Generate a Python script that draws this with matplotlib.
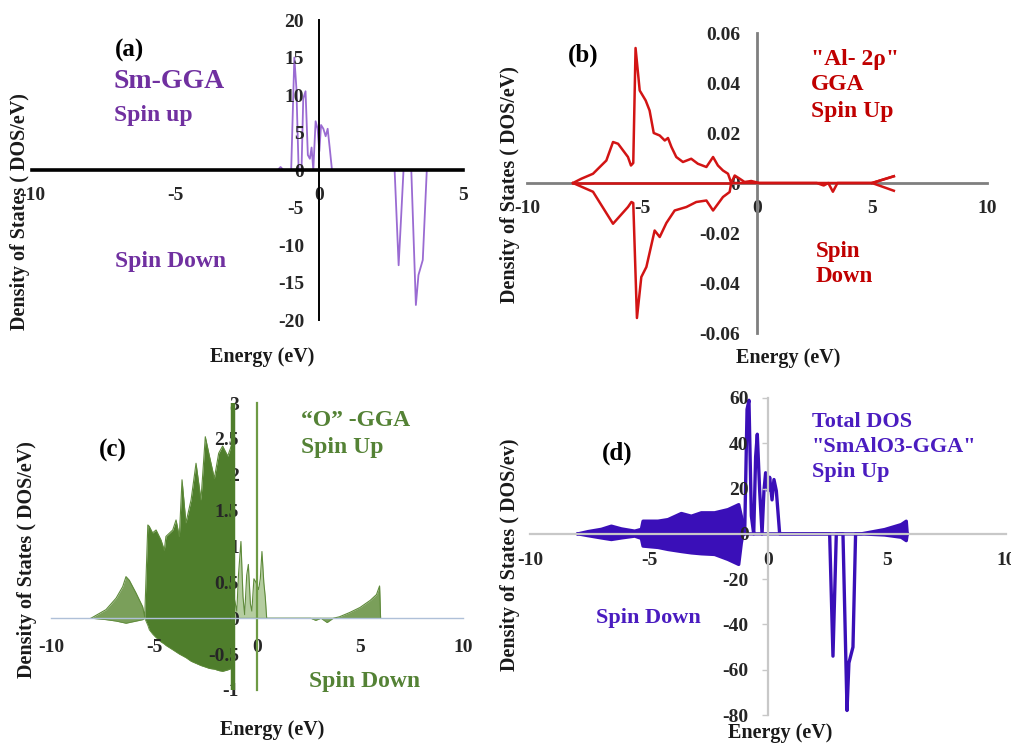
import matplotlib
matplotlib.use("Agg")
import matplotlib.pyplot as plt
import numpy as np

# ---------------- data ----------------
# (a) Sm-GGA
a_xticks = [-10, -5, 0, 5]
a_yticks = [-20, -15, -10, -5, 0, 5, 10, 15, 20]
E_a_up = [-10, -2.0, -1.45, -1.35, -1.25, -0.98, -0.87, -0.80, -0.72, -0.62, -0.56,
          -0.48, -0.40, -0.33, -0.27, -0.21, -0.13, -0.06, 0.0, 0.06, 0.14, 0.22,
          0.29, 0.36, 0.44, 5.0]
sm_up = [0, 0, 0, 0.4, 0, 0, 15, 11, 0, 0, 9.5,
         10.5, 2, 1.5, 3, 0, 6.5, 5.5, 2.5, 6, 5.5, 4.5,
         5.5, 3, 0, 0]
E_a_dn = [-10, 2.62, 2.76, 2.85, 2.93, 3.20, 3.36, 3.45, 3.60, 3.74, 5.0]
sm_dn = [0, 0, -12.7, -6, 0, 0, -18, -14, -12, 0, 0]

# (b) Al-2p
b_xticks = [-10, -5, 0, 5, 10]
b_yticks = [-0.06, -0.04, -0.02, 0, 0.02, 0.04, 0.06]
b_ylabels = ["-0.06", "-0.04", "-0.02", "0", "0.02", "0.04", "0.06"]
E_b_up = [-8.0, -7.64, -7.13, -6.77, -6.55, -6.26, -6.04, -5.61, -5.48, -5.38,
          -5.28, -5.10, -4.84, -4.67, -4.49, -4.23, -4.01, -3.87, -3.72, -3.51,
          -3.22, -2.86, -2.57, -2.20, -1.91, -1.70, -1.48, -1.26, -1.12, -0.97,
          -0.75, -0.54, -0.25, 0.1, 2.6, 2.9, 3.1, 3.3, 3.5, 5.0, 5.95]
al_up = [0, 0.0017, 0.0037, 0.007, 0.009, 0.0164, 0.0157, 0.0104, 0.007, 0.008,
         0.054, 0.037, 0.033, 0.029, 0.020, 0.019, 0.017, 0.018, 0.0144, 0.0104,
         0.0084, 0.0097, 0.0077, 0.0064, 0.0104, 0.007, 0.005, 0.0037, 0.0, 0.003,
         0.0017, 0.0004, 0.0008, 0.0, 0, -0.001, 0, -0.0035, 0, 0, 0.0027]
E_b_dn = [-8.0, -7.13, -6.26, -5.61, -5.46, -5.38, -5.22, -5.03, -4.81, -4.45,
          -4.23, -3.94, -3.58, -3.07, -2.64, -2.20, -1.91, -1.48, -1.19, -1.12,
          0.1, 5.0, 5.95]
al_dn = [0, -0.0035, -0.0163, -0.0096, -0.0076, -0.008, -0.054, -0.0376, -0.0336, -0.019,
         -0.0216, -0.016, -0.011, -0.0096, -0.0076, -0.007, -0.011, -0.0056, -0.0036, 0,
         0, 0, -0.0031]

# (c) O-GGA (upper / lower envelopes of the dense curve)
c_xticks = [-10, -5, 0, 5, 10]
c_yticks = [-1, -0.5, 0, 0.5, 1, 1.5, 2, 2.5, 3]
c_ylabels = ["-1", "-0.5", "0", "0.5", "1", "1.5", "2", "2.5", "3"]
E_c = [-8.06, -7.33, -6.84, -6.52, -6.36, -6.20, -5.87, -5.55, -5.45, -5.30,
       -5.23, -5.07, -4.90, -4.66, -4.50, -4.42, -4.09, -3.93, -3.77, -3.64,
       -3.45, -3.20, -2.96, -2.72, -2.51, -2.31, -2.07, -1.86, -1.67, -1.42,
       -1.25, -1.15, -1.12, -0.98, -0.90, -0.78, -0.68, -0.60, -0.50, -0.42,
       -0.32, -0.25, -0.15, -0.05, 0.08, 0.16, 0.24, 0.33, 0.40, 0.47,
       2.60, 2.85, 3.10, 3.40, 3.70, 4.00, 4.50, 5.00, 5.50, 5.80,
       5.95, 6.00]
O_up = [0, 0.12, 0.28, 0.44, 0.58, 0.53, 0.35, 0.16, 0.02, 1.30,
        1.28, 1.19, 1.23, 1.09, 0.95, 1.14, 1.23, 1.37, 1.14, 1.93,
        1.33, 1.65, 2.16, 1.65, 2.53, 2.26, 1.95, 2.30, 2.40, 2.26,
        2.40, 2.30, 0.30, 0.10, 0.60, 1.07, 0.30, 0.05, 0.60, 0.75,
        0.20, 0.10, 0.55, 0.50, 0.40, 0.55, 0.93, 0.50, 0.30, 0.0,
        0, 0, 0, 0, 0, 0.02, 0.08, 0.15, 0.25, 0.33,
        0.45, 0.0]
O_dn = [0, -0.02, -0.04, -0.06, -0.07, -0.06, -0.04, -0.02, 0.0, -0.10,
        -0.16, -0.22, -0.27, -0.33, -0.36, -0.38, -0.44, -0.47, -0.50, -0.52,
        -0.55, -0.60, -0.63, -0.66, -0.68, -0.70, -0.71, -0.73, -0.74, -0.72,
        -0.70, -0.60, 0, 0, 0, 0, 0, 0, 0, 0,
        0, 0, 0, 0, 0, 0, 0, 0, 0, 0,
        0, -0.03, 0, -0.06, 0, 0, 0, 0, 0, 0,
        0, 0]
c_bar_x = -1.15

# (d) Total DOS SmAlO3-GGA
d_xticks = [-10, -5, 0, 5, 10]
d_yticks = [-80, -60, -40, -20, 0, 20, 40, 60]
E_d = [-7.98, -7.56, -7.00, -6.58, -6.16, -5.60, -5.32, -5.25, -4.62, -4.20,
       -3.64, -3.22, -2.80, -2.24, -1.68, -1.23, -1.12, -1.05, -0.98, -0.88,
       -0.80, -0.70, -0.60, -0.52, -0.45, -0.35, -0.25, -0.17, -0.10, 0.00,
       0.07, 0.17, 0.25, 0.35, 0.49, 2.59, 2.73, 2.87, 3.15, 3.32,
       3.40, 3.57, 3.68, 3.92, 4.90, 5.60, 5.81, 5.85]
T_up = [0, 1.0, 2.0, 3.4, 2.2, 1.2, 2.0, 5.6, 5.6, 6.3,
        9.0, 7.8, 9.3, 9.3, 10.7, 12.9, 7.8, 0, 0, 55,
        59, 8, 0, 34, 44, 19, 0, 19, 27, 19,
        25, 15, 24, 19, 0, 0, 0, 0, 0, 0,
        0, 0, 0, 0, 1.9, 4.1, 5.6, 0]
T_dn = [0, -0.8, -1.8, -2.5, -1.8, -1.0, -2.0, -5.4, -6.0, -6.9,
        -7.8, -8.4, -8.8, -9.1, -11.3, -13.5, -4.0, 0, 0, 0,
        0, 0, 0, 0, 0, 0, 0, 0, 0, 0,
        0, 0, 0, 0, 0, 0, -54, 0, 0, -78,
        -57, -50, 0, 0, -0.5, -1.5, -3.0, 0]

# ---------------- figure ----------------
W, H = 1012, 744
plt.rcParams["font.family"] = ["Liberation Serif", "DejaVu Serif"]
plt.rcParams["font.weight"] = "bold"
fig = plt.figure(figsize=(W / 100, H / 100), dpi=100)

TICK_FS = 14
LAB_FS = 14.5
TXT_FS = 17
TAG_FS = 18
TICK_COLOR = "#262626"


def make_ax(xlim, ylim, px_x, px_y, axcolor, hw, vw, ypad, xpad):
    l = px_x[0] / W
    w = (px_x[1] - px_x[0]) / W
    b = 1 - px_y[1] / H
    h = (px_y[1] - px_y[0]) / H
    ax = fig.add_axes([l, b, w, h])
    ax.set_xlim(xlim)
    ax.set_ylim(ylim)
    ax.patch.set_visible(False)
    for s in ["top", "right"]:
        ax.spines[s].set_visible(False)
    ax.spines["left"].set_position(("data", 0))
    ax.spines["bottom"].set_position(("data", 0))
    ax.spines["left"].set_color(axcolor)
    ax.spines["bottom"].set_color(axcolor)
    ax.spines["bottom"].set_linewidth(hw)
    ax.spines["left"].set_linewidth(vw)
    ax.tick_params(axis="both", length=0, labelsize=TICK_FS, labelcolor=TICK_COLOR)
    ax.tick_params(axis="y", pad=ypad)
    ax.tick_params(axis="x", pad=xpad)
    return ax


def ftext(x, y, s, color, fs, ha="left", **kw):
    fig.text(x / W, 1 - y / H, s, color=color, fontsize=fs, ha=ha, va="center",
             fontweight="bold", **kw)


def ylab(x, y, s):
    fig.text(x / W, 1 - y / H, s, rotation=90, fontsize=LAB_FS, ha="center",
             va="center", color="#1a1a1a", fontweight="bold")


def xlab(x, y, s):
    fig.text(x / W, 1 - y / H, s, fontsize=LAB_FS, ha="center", va="center",
             color="#1a1a1a", fontweight="bold")


# ---- (a) ----
axa = make_ax((-10, 5), (-20, 20), (32, 463), (20, 320), "black", 2.6, 1.4, 11, 12)
axa.set_xticks(a_xticks, labels=[str(v) for v in a_xticks])
axa.set_yticks(a_yticks, labels=[str(v) for v in a_yticks])
a_col = "#9A6BD2"
axa.plot(E_a_up, sm_up, color=a_col, lw=1.3, zorder=1)
axa.plot(E_a_dn, sm_dn, color=a_col, lw=1.3, zorder=1)
ftext(130, 50, "(a)", "black", TAG_FS, ha="center")
ftext(114, 82, "Sm-GGA", "#7030A0", 20)
ftext(114, 115, "Spin up", "#7030A0", TXT_FS)
ftext(115, 261, "Spin Down", "#7030A0", TXT_FS)
ylab(20, 212, "Density of States ( DOS/eV)")
xlab(262, 357, "Energy (eV)")

# ---- (b) ----
axb = make_ax((-10, 10), (-0.06, 0.06), (527, 987), (33, 333), "#7f7f7f", 2.0, 2.0, 12, 12)
axb.set_xticks(b_xticks, labels=[str(v) for v in b_xticks])
axb.set_yticks(b_yticks, labels=b_ylabels)
b_col = "#D21414"
axb.plot(E_b_up, al_up, color=b_col, lw=1.8, zorder=3)
axb.plot(E_b_dn, al_dn, color=b_col, lw=1.8, zorder=3)
axb.plot([E_b_up[0], E_b_up[28]], [0, 0], color=b_col, lw=1.8, zorder=3)
axb.plot([E_b_dn[-2], E_b_dn[-1]], [0, al_up[-1]], color=b_col, lw=1.8, zorder=3)
ftext(583, 55, "(b)", "black", TAG_FS, ha="center")
ftext(811, 60, "\"Al- 2ρ\"", "#C00000", TXT_FS)
ftext(811, 84, "GGA", "#C00000", TXT_FS)
ftext(811, 112, "Spin Up", "#C00000", TXT_FS)
ftext(816, 251, "Spin", "#C00000", TXT_FS - 0.5)
ftext(816, 277, "Down", "#C00000", TXT_FS - 0.5)
ylab(510, 185, "Density of States ( DOS/eV)")
xlab(788, 358, "Energy (eV)")

# ---- (c) ----
axc = make_ax((-10, 10), (-1, 3), (51, 463), (403, 690), "#6E9A45", 1.0, 1.6, 13, 15)
axc.spines["bottom"].set_color("#AFC0D8")
axc.set_xticks(c_xticks, labels=[str(v) for v in c_xticks])
axc.set_yticks(c_yticks, labels=c_ylabels)
Ec = np.array(E_c)
dark = (Ec >= -5.46) & (Ec <= -1.15)
light_l = Ec <= -5.45
light_r = (Ec >= -1.15) & (Ec <= 0.47)
tail = Ec >= 2.5
axc.fill_between(E_c, O_dn, O_up, where=dark, color="#4F7E2C", lw=0, zorder=1)
axc.fill_between(E_c, O_dn, O_up, where=light_l, color="#7A9F5A", lw=0, zorder=1)
axc.fill_between(E_c, O_dn, O_up, where=light_r, color="#B5CDA0", lw=0, zorder=1)
axc.fill_between(E_c, O_dn, O_up, where=tail, color="#74995250", lw=0, zorder=1)
axc.fill_between(E_c, O_dn, O_up, where=tail, color="#7A9F5A", lw=0, zorder=1)
axc.plot(E_c, O_up, color="#5E8A3A", lw=0.8, zorder=1.5)
axc.plot(E_c, O_dn, color="#5E8A3A", lw=0.6, zorder=1.5)
axc.vlines(c_bar_x, -1, 3, color="#4F7E2C", lw=3.2, zorder=1.8)
ftext(113, 450, "(c)", "black", TAG_FS, ha="center")
ftext(301, 420, "\u201cO\u201d -GGA", "#548235", TXT_FS)
ftext(301, 447, "Spin Up", "#548235", TXT_FS)
ftext(309, 682, "Spin Down", "#548235", TXT_FS)
ylab(27, 560, "Density of States ( DOS/eV)")
xlab(272, 730, "Energy (eV)")

# ---- (d) ----
axd = make_ax((-10, 10), (-80, 60), (530, 1006), (398, 715), "#C8C8C8", 1.6, 1.6, 10, 13)
axd.tick_params(axis="y", length=4, width=1, color="#C8C8C8", direction="out")
axd.set_xticks(d_xticks, labels=[str(v) for v in d_xticks])
axd.set_yticks(d_yticks, labels=[str(v) for v in d_yticks])
d_col = "#3A0FB8"
Ed = np.array(E_d)
axd.fill_between(E_d, T_dn, T_up, where=(Ed <= -1.05), color=d_col, lw=0, zorder=1)
axd.fill_between(E_d, T_dn, T_up, where=(Ed >= 3.9), color=d_col, lw=0, zorder=1)
axd.plot(E_d, T_up, color=d_col, lw=2.4, zorder=1.5)
axd.plot(E_d, T_dn, color=d_col, lw=2.4, zorder=1.5)
ftext(617, 453, "(d)", "black", TAG_FS, ha="center")
ftext(812, 422, "Total DOS", "#4A1CC0", 16)
ftext(812, 447, "\"SmAlO3-GGA\"", "#4A1CC0", 16)
ftext(812, 472, "Spin Up", "#4A1CC0", 16)
ftext(596, 618, "Spin Down", "#4A1CC0", 16)
ylab(510, 555, "Density of States ( DOS/ev)")
xlab(780, 733, "Energy (eV)")

fig.savefig("out.png", dpi=100)
